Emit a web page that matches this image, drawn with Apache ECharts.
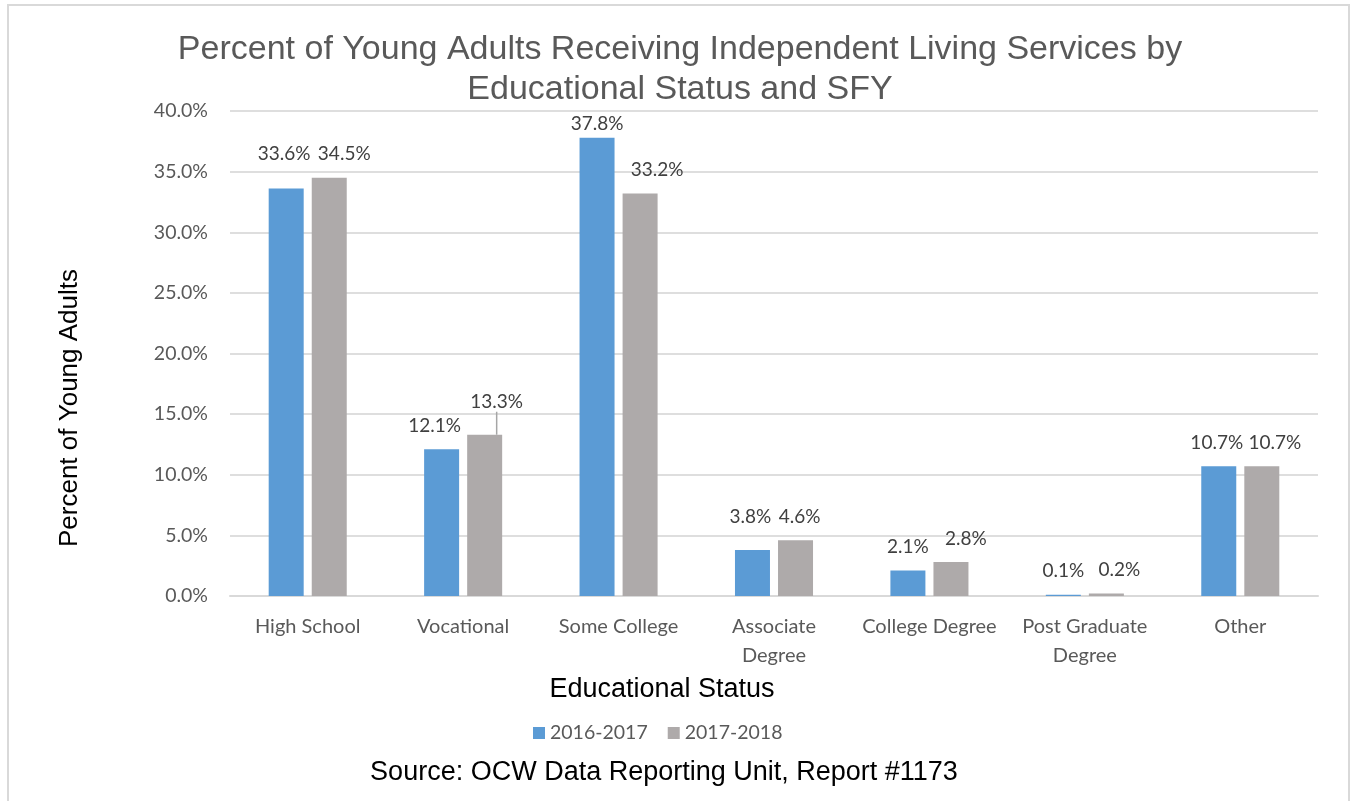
<!DOCTYPE html>
<html>
<head>
<meta charset="utf-8">
<script src="https://cdn.jsdelivr.net/npm/echarts@6/dist/echarts.min.js"></script>
<style>
html,body{margin:0;padding:0;background:#fff;}
#c{width:1351px;height:801px;}
</style>
</head>
<body>
<div id="c"></div>
<script>
const categories = ['High School','Vocational','Some College','Associate\nDegree','College Degree','Post Graduate\nDegree','Other'];
const series2016 = [33.6, 12.1, 37.8, 3.8, 2.1, 0.1, 10.7];
const series2017 = [34.5, 13.3, 33.2, 4.6, 2.8, 0.2, 10.7];
const seriesNames = ['2016-2017','2017-2018'];
const yTicks = {min: 0, max: 40, interval: 5};

// label nudges (style only)
const nudge2016 = [[-2,-11],[-7,0],[0,10],[-2,-10],[0,0],[0,0],[-2,0]];
const nudge2017 = [[15,0],[12,-9],[17,0],[4,0],[15,0],[13,0],[13,0]];

const labelFont = {fontFamily:'Lato', fontSize:19, color:'#404040'};
const chart = echarts.init(document.getElementById('c'));

function mkSeries(name, data, color, nudge){
  return {
    name, type:'bar', barWidth:35, barGap:'23%',
    itemStyle:{color},
    data: data.map((v,i)=>{
      const d = {value:v};
      if (name==='2017-2018' && i===1) d.labelLine = {show:true, lineStyle:{color:'#A6A6A6', width:1.5}};
      return d;
    }),
    label:{show:true, position:'top', distance:14, formatter:p=>p.value.toFixed(1)+'%', ...labelFont},
    labelLayout: p => ({dx: nudge[p.dataIndex][0], dy: nudge[p.dataIndex][1]}),
    labelLine:{show:false}
  };
}

chart.setOption({
  animation:false,
  grid:{left:230, right:33, top:111, bottom:205},
  legend:{
    data:seriesNames, left:528, top:718, itemWidth:12, itemHeight:12, itemGap:20,
    icon:'rect', textStyle:{fontFamily:'Lato', fontSize:19.5, color:'#595959'}
  },
  xAxis:{
    type:'category', data:categories,
    axisLine:{lineStyle:{color:'#D9D9D9', width:2}},
    axisTick:{show:false},
    axisLabel:{fontFamily:'Lato', fontSize:20, color:'#595959', margin:16, lineHeight:29, interval:0}
  },
  yAxis:{
    type:'value', min:yTicks.min, max:yTicks.max, interval:yTicks.interval,
    axisLine:{show:false}, axisTick:{show:false},
    splitLine:{lineStyle:{color:'#DEDEDE', width:2}},
    axisLabel:{fontFamily:'Lato', fontSize:19.5, color:'#595959', margin:22, formatter:v=>v.toFixed(1)+'%'}
  },
  series:[
    mkSeries(seriesNames[0], series2016, '#5B9BD5', nudge2016),
    mkSeries(seriesNames[1], series2017, '#AEAAAA', nudge2017)
  ],
  graphic:[
    {type:'rect', shape:{x:8, y:5, width:1341, height:820}, style:{fill:'none', stroke:'#D9D9D9', lineWidth:2}, silent:true, z:-10},
    {type:'text', x:680, y:50, style:{text:'Percent of Young Adults Receiving Independent Living Services by', fontFamily:'Liberation Sans', fontSize:34, fill:'#595959', textAlign:'center', textVerticalAlign:'middle'}},
    {type:'text', x:680, y:90, style:{text:'Educational Status and SFY', fontFamily:'Liberation Sans', fontSize:34, fill:'#595959', textAlign:'center', textVerticalAlign:'middle'}},
    {type:'text', x:70, y:408, rotation:Math.PI/2, style:{text:'Percent of Young Adults', fontFamily:'Liberation Sans', fontSize:26, fill:'#000', textAlign:'center', textVerticalAlign:'middle'}},
    {type:'text', x:662, y:690, style:{text:'Educational Status', fontFamily:'Liberation Sans', fontSize:27, fill:'#000', textAlign:'center', textVerticalAlign:'middle'}},
    {type:'text', x:664, y:773, style:{text:'Source: OCW Data Reporting Unit, Report #1173', fontFamily:'Liberation Sans', fontSize:27, fill:'#000', textAlign:'center', textVerticalAlign:'middle'}}
  ]
});
</script>
</body>
</html>
